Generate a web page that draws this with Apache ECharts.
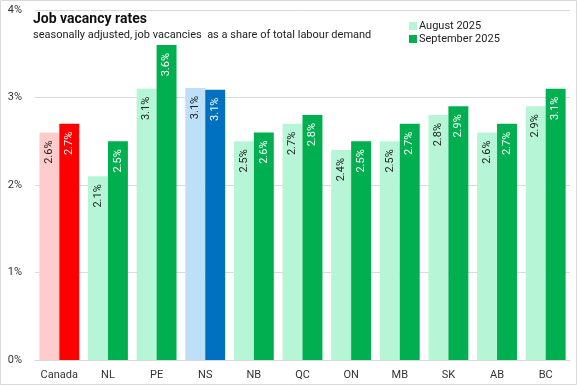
<!DOCTYPE html>
<html><head><meta charset="utf-8">
<script src="https://cdn.jsdelivr.net/npm/echarts@6/dist/echarts.min.js"></script>
<style>html,body{margin:0;padding:0;background:#fff}#c{width:577px;height:385px}</style>
</head><body><div id="c"></div>
<script>
const categories = ['Canada','NL','PE','NS','NB','QC','ON','MB','SK','AB','BC'];
const august2025 = [2.6, 2.1, 3.1, 3.11, 2.5, 2.7, 2.4, 2.5, 2.8, 2.6, 2.9];
const september2025 = [2.7, 2.5, 3.6, 3.09, 2.6, 2.8, 2.5, 2.7, 2.9, 2.7, 3.1];
const yTicks = [0, 1, 2, 3, 4];

const augColor = '#B6F6D6', sepColor = '#00B050';
const special = {
  Canada: ['#FFCCCC', '#FF0000'],
  NS: ['#BDDFF8', '#0070C0']
};
function mk(vals, idx, base) {
  return vals.map((v, i) => {
    const s = special[categories[i]];
    return { value: v, itemStyle: { color: s ? s[idx] : base } };
  });
}
const font = 'Roboto';
const chart = echarts.init(document.getElementById('c'));
chart.setOption({
  animation: false,
  textStyle: { fontFamily: font },
  graphic: [{ type: 'rect', shape: { x: 0.5, y: 0.5, width: 576, height: 384 }, style: { fill: 'none', stroke: '#D9D9D9', lineWidth: 1 }, z: 100 }],
  title: {
    text: 'Job vacancy rates',
    subtext: 'seasonally adjusted, job vacancies  as a share of total labour demand',
    left: 28, top: 7, itemGap: 4,
    textStyle: { fontFamily: font, fontSize: 14, fontWeight: 'bold', color: '#111' },
    subtextStyle: { fontFamily: font, fontSize: 11, color: '#222' }
  },
  legend: {
    orient: 'vertical', left: 404, top: 15, itemWidth: 8, itemHeight: 8, itemGap: 1,
    icon: 'rect',
    textStyle: { fontFamily: font, fontSize: 11, color: '#222', padding: [0, 0, 0, -3], lineHeight: 12 },
    data: [{ name: 'August 2025', itemStyle: { color: augColor } }, { name: 'September 2025', itemStyle: { color: sepColor } }]
  },
  grid: { left: 35, right: 7, top: 10, bottom: 25, containLabel: false },
  xAxis: {
    type: 'category', data: categories,
    axisLine: { lineStyle: { color: '#D9D9D9' } }, axisTick: { show: false },
    axisLabel: { color: '#333', fontSize: 11, margin: 10 }
  },
  yAxis: {
    type: 'value', min: yTicks[0], max: yTicks[yTicks.length - 1], interval: 1,
    axisLabel: { formatter: v => v + '%', color: '#333', fontSize: 11, margin: 13 },
    splitLine: { lineStyle: { color: '#D9D9D9' } }
  },
  series: [
    { name: 'August 2025', type: 'bar', data: mk(august2025, 0, augColor), itemStyle: { color: augColor },
      barGap: '0%', barCategoryGap: '18%',
      label: { show: true, rotate: 90, position: 'insideTop', align: 'right', verticalAlign: 'middle', distance: 8,
        color: '#222', fontSize: 11, formatter: p => p.value.toFixed(1) + '%' } },
    { name: 'September 2025', type: 'bar', data: mk(september2025, 1, sepColor), itemStyle: { color: sepColor },
      barGap: '0%', barCategoryGap: '18%',
      label: { show: true, rotate: 90, position: 'insideTop', align: 'right', verticalAlign: 'middle', distance: 8,
        color: '#fff', fontSize: 11, formatter: p => p.value.toFixed(1) + '%' } }
  ]
});
</script></body></html>
